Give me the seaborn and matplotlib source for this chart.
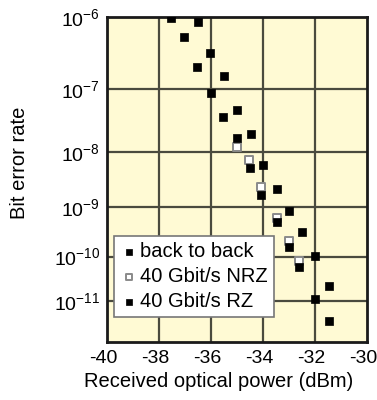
import numpy as np
import pandas as pd
import seaborn as sns
import matplotlib.pyplot as plt
from matplotlib.transforms import ScaledTranslation

# (power in dBm, BER)
b2b_power = [-37.54, -37.03, -36.53, -36.0, -35.53, -35.01, -34.5, -34.08, -33.47, -33.0, -32.6, -32.0]
b2b_ber = [9.7e-7, 5.4e-7, 2.1e-7, 8.9e-8, 3.8e-8, 1.7e-8, 5.2e-9, 1.7e-9, 5.1e-10, 1.6e-10, 5.9e-11, 1.1e-11]

nrz_power = [-34.99, -34.55, -34.08, -33.47, -33.0, -32.6]
nrz_ber = [1.22e-8, 7.3e-9, 2.4e-9, 6.2e-10, 2.1e-10, 8.1e-11]

rz_power = [-36.51, -36.04, -35.51, -34.99, -34.48, -34.01, -33.47, -33.0, -32.51, -32.0, -31.48, -31.45]
rz_ber = [8.6e-7, 3.3e-7, 1.56e-7, 4.9e-8, 2.0e-8, 6.0e-9, 2.2e-9, 8.5e-10, 3.2e-10, 1.04e-10, 2.3e-11, 3.3e-12]

ytick_vals = [1e-6, 1e-7, 1e-8, 1e-9, 1e-10, 1e-11]
ytick_labels = ['$10^{-6}$', '$10^{-7}$', '$10^{-8}$', '$10^{-9}$', '$10^{-10}$', '$10^{-11}$']
xtick_vals = [-40, -38, -36, -34, -32, -30]

sns.set_theme(style='white')
plt.rcParams['font.family'] = ['Liberation Sans', 'DejaVu Sans']
plt.rcParams['mathtext.default'] = 'regular'
plt.rcParams['axes.unicode_minus'] = False
plt.rcParams['text.color'] = 'black'
plt.rcParams['axes.labelcolor'] = 'black'
plt.rcParams['xtick.color'] = 'black'
plt.rcParams['ytick.color'] = 'black'

df_b2b = pd.DataFrame({'power': b2b_power, 'ber': b2b_ber})
df_nrz = pd.DataFrame({'power': nrz_power, 'ber': nrz_ber})
df_rz = pd.DataFrame({'power': rz_power, 'ber': rz_ber})

fig = plt.figure(figsize=(3.77, 4), dpi=100)
ax = fig.add_axes([107/377, 58/400, 260/377, 325/400])
ax.set_facecolor('#fffad4')

sns.scatterplot(data=df_nrz, x='power', y='ber', ax=ax, marker='s', s=38,
                color='white', edgecolor='#8a8a8a', linewidth=1.4, label='40 Gbit/s NRZ', zorder=3)
sns.scatterplot(data=df_b2b, x='power', y='ber', ax=ax, marker='s', s=40,
                color='black', edgecolor='black', linewidth=0.5, label='back to back', zorder=4)
sns.scatterplot(data=df_rz, x='power', y='ber', ax=ax, marker='s', s=40,
                color='black', edgecolor='black', linewidth=0.5, label='40 Gbit/s RZ', zorder=4)

# BER axis: linear in log(-log(BER))
def fwd(y):
    with np.errstate(invalid='ignore', divide='ignore'):
        return -np.log10(-np.log10(y))

def inv(v):
    return 10 ** (-(10 ** (-np.asarray(v))))

ax.set_yscale('function', functions=(fwd, inv))
ax.set_ylim(1e-12, 1e-6)
ax.set_xlim(-40, -30)
ax.set_yticks(ytick_vals)
ax.set_yticklabels(ytick_labels)
ax.set_xticks(xtick_vals)
ax.set_xticklabels([str(v) for v in xtick_vals])
ax.minorticks_off()

for v in [-38, -36, -34, -32]:
    ax.axvline(v, color='#4a4a3e', lw=1.6, zorder=1)
for v in ytick_vals[1:]:
    ax.axhline(v, color='#4a4a3e', lw=1.6, zorder=1)

for sp in ax.spines.values():
    sp.set_color('#1a1a1a')
    sp.set_linewidth(2)

ax.tick_params(length=0, labelsize=14, pad=5, labelcolor='black')
ax.tick_params(axis='x', pad=6)
shift = ScaledTranslation(-4/100, 0, fig.dpi_scale_trans)
for lab in ax.get_xticklabels():
    lab.set_transform(lab.get_transform() + shift)

ax.set_xlabel('Received optical power (dBm)', fontsize=14.5)
ax.set_ylabel('Bit error rate', fontsize=14.5)
ax.yaxis.set_label_coords(-0.30, 0.55)
ax.xaxis.set_label_coords(0.43, -0.092)

h, l = ax.get_legend_handles_labels()
order = [1, 0, 2]
leg = ax.legend([h[i] for i in order], [l[i] for i in order], loc='lower left',
                bbox_to_anchor=(0.027, 0.077), borderaxespad=0, fontsize=14.5,
                frameon=True, fancybox=False, handletextpad=0.1, labelspacing=0.3,
                borderpad=0.3, handlelength=0.9, markerscale=0.7)
leg.get_frame().set_edgecolor('#777777')
leg.get_frame().set_linewidth(1.2)
leg.get_frame().set_facecolor('white')
leg.get_frame().set_alpha(1)

fig.savefig('out.png', dpi=100)
